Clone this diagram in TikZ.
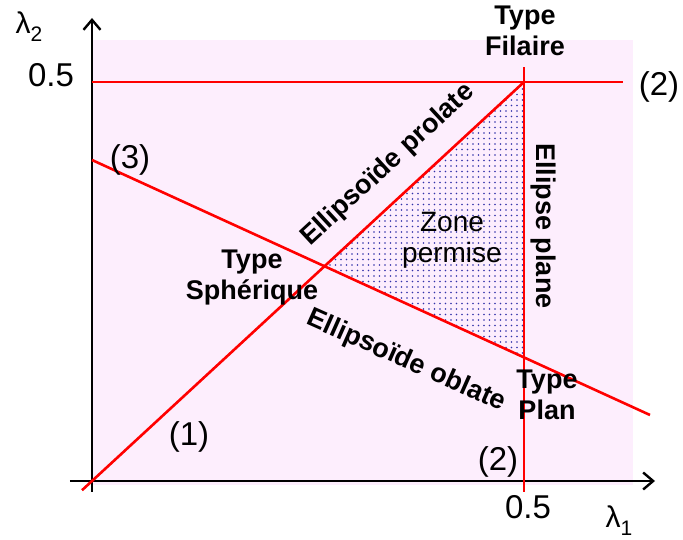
\documentclass[tikz,border=0pt]{standalone}
\usepackage{fontspec}
\setmainfont{Liberation Sans}
\usetikzlibrary{arrows.meta,patterns.meta}
\definecolor{zonebg}{RGB}{253,238,253}
\definecolor{dotblue}{RGB}{50,50,170}

\begin{document}
\begin{tikzpicture}[
  x=1pt, y=1pt,
  >={Straight Barb[length=10pt,width=17pt]},
  axis/.style={line width=2.4pt, ->},
  limit/.style={line width=2.6pt, red},
  num/.style={font=\fontsize{33}{36}\selectfont, inner sep=0pt},
  lam/.style={font=\fontsize{30}{32}\selectfont, inner sep=0pt},
  kind/.style={font=\fontsize{27}{31}\selectfont\bfseries, align=center,
               inner sep=0pt},
  ellname/.style={font=\fontsize{27}{31}\selectfont\bfseries, inner sep=0pt},
  zone/.style={font=\fontsize{28}{31}\selectfont, align=center, inner sep=0pt}
]
\useasboundingbox (-92,-59) rectangle (591,481);

% background of the domain
\fill[zonebg] (0,-4) rectangle (541,441);

% axes
\coordinate (xstart) at (-22,0);
\coordinate (xend) at (563,0);
\coordinate (ystart) at (0,-11);
\coordinate (yend) at (0,463);
\draw[axis] (xstart) -- (xend);
\draw[axis] (ystart) -- (yend);

% limit lines
\coordinate (diagA) at (-10,-9.24);
\coordinate (corner) at (432,399);
\coordinate (topL) at (0,399);
\coordinate (topR) at (531,399);
\coordinate (vertB) at (432,-11);
\coordinate (vertT) at (432,414);
\coordinate (obA) at (0,321);
\coordinate (obB) at (558,66);
\coordinate (sph) at (intersection of diagA--corner and obA--obB);
\coordinate (plan) at (intersection of vertB--vertT and obA--obB);

% permitted zone
\fill[pattern={Dots[radius=0.9pt,distance=5.5pt]}, pattern color=dotblue]
  (sph) -- (corner) -- (plan) -- cycle;

\draw[limit] (diagA) -- (corner);
\draw[limit] (topL) -- (topR);
\draw[limit] (vertB) -- (vertT);
\draw[limit] (obA) -- (obB);

% axis labels
\node[lam] (l2) at (-63,454) {λ\raisebox{-8pt}{\fontsize{21}{21}\selectfont 2}};
\node[lam] (l1) at (527,-40) {λ\raisebox{-8pt}{\fontsize{21}{21}\selectfont 1}};
\node[num] (yhalf) at (-41,406) {0.5};
\node[num] (xhalf) at (436,-26) {0.5};

% line numbers
\node[num] (n3) at (38,321) {(3)};
\node[num] (n1) at (97,44) {(1)};
\node[num] (n2b) at (406,19) {(2)};
\node[num] (n2r) at (567,394) {(2)};

% types
\node[kind] (filaire) at (433,450) {Type\\Filaire};
\node[kind] (spherique) at (160,203) {Type\\Sphérique};
\node[kind] (plantype) at (455,86) {Type\\Plan};
\node[zone] (permise) at (360,241) {Zone\\permise};

% shapes along the limits
\node[ellname, rotate=42.7] (prolate) at (296,316) {Ellipsoïde prolate};
\node[ellname, rotate=-90] (plane) at (451,255) {Ellipse plane};
\node[ellname, rotate=-24] (oblate) at (314,120) {Ellipsoïde oblate};

\end{tikzpicture}
\end{document}
